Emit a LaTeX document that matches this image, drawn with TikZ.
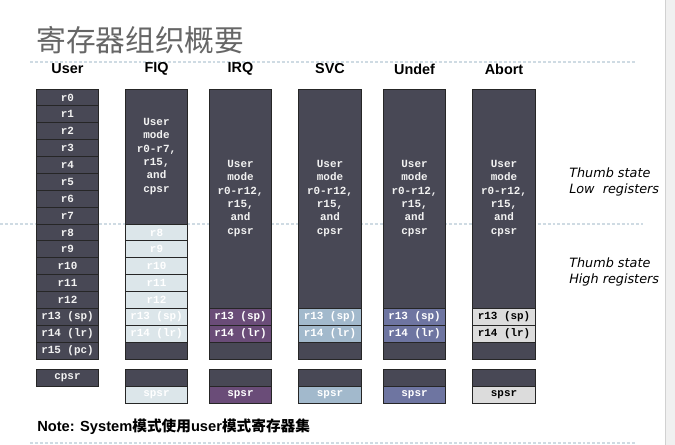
\documentclass[tikz,border=0pt]{standalone}
\usepackage{fontspec}
\newfontfamily\regfont{Liberation Mono}
\newfontfamily\headfont{Liberation Sans}
\newfontfamily\cjkfont{Noto Sans CJK SC}
\newfontfamily\handfont{DejaVu Sans}
\definecolor{regdark}{HTML}{484855}
\definecolor{fiqcol}{HTML}{DCE6EA}
\definecolor{irqcol}{HTML}{6A4C78}
\definecolor{svccol}{HTML}{A2B9CC}
\definecolor{undcol}{HTML}{6E75A1}
\definecolor{abtcol}{HTML}{DCDCDC}
\definecolor{sepcol}{HTML}{CFDBE3}
\definecolor{titlegray}{HTML}{666666}
\begin{document}
\begin{tikzpicture}[x=0.75pt, y=-0.75pt,
    reg/.style={draw=black!85, line width=0.6pt, fill=regdark, text=white!95!black,
        minimum width=46.8pt, minimum height=12.66pt, inner sep=0pt,
        font=\regfont\bfseries\fontsize{8.2}{9}\selectfont},
    blk/.style={reg, align=center, font=\regfont\bfseries\fontsize{8.2}{10}\selectfont},
    mode/.style={font=\headfont\bfseries\fontsize{10.8}{13}\selectfont},
    thumb/.style={anchor=west, align=left, inner sep=0pt,
        font=\handfont\itshape\fontsize{9.6}{12}\selectfont},
    sep/.style={draw=sepcol, line width=1.5pt, dash pattern=on 2.2pt off 1.5pt}]
    \useasboundingbox (0,0) rectangle (675,445);

    % 1. Nen: mep phai va cac duong cham
    \fill[black!6] (665,0) rectangle (675,445);
    \draw[black!18] (665,0) -- (665,445);
    \draw[sep] (30,62) -- (635,62);
    \draw[sep] (0,224.5) -- (643,224.5);
    \draw[sep] (30,443) -- (635,443);

    % 2. Tieu de
    \node[anchor=west, inner sep=0pt, text=titlegray,
        font=\cjkfont\fontsize{22.3}{26}\selectfont] (title) at (36,40) {寄存器组织概要};

    % 3. Ten cac che do
    \node[mode] (huser) at (67.5,69) {User};
    \node[mode] (hfiq) at (156.5,69) {FIQ};
    \node[mode] (hirq) at (240.5,69) {IRQ};
    \node[mode] (hsvc) at (330,69) {SVC};
    \node[mode] (hund) at (414.5,69) {Undef};
    \node[mode] (habt) at (504,69) {Abort};

    % 4. Cot User: r0 - r15 va cpsr
    \foreach \i/\t in {0/r0,1/r1,2/r2,3/r3,4/r4,5/r5,6/r6,7/r7,8/r8,9/r9,10/r10,
            11/r11,12/r12,13/{r13 (sp)},14/{r14 (lr)},15/{r15 (pc)}}
        \node[reg] (u\i) at (67.5,{89+16.875*(\i+0.5)}) {\t};
    \node[reg] (ucpsr) at (67.5,377.7) {cpsr};

    % 5. Cot FIQ: r8 - r14 rieng
    \node[blk, minimum height=101.25pt] (fiqblk) at (156.5,156.5)
        {User\\mode\\r0-r7,\\r15,\\and\\cpsr};
    \foreach \i/\t in {8/r8,9/r9,10/r10,11/r11,12/r12,13/{r13 (sp)},14/{r14 (lr)}}
        \node[reg, fill=fiqcol, text=white] (f\i) at (156.5,{89+16.875*(\i+0.5)}) {\t};
    \node[reg] (f15) at (156.5,{89+16.875*15.5}) {};
    \node[reg] (fcpsr) at (156.5,377.7) {};
    \node[reg, fill=fiqcol, text=white] (fspsr) at (156.5,394.6) {spsr};

    % 6. Cac cot IRQ, SVC, Undef, Abort: r13, r14 rieng
    \foreach \m/\cx/\col/\tc in {irq/240.5/irqcol/white, svc/330/svccol/white,
            und/414.5/undcol/white, abt/504/abtcol/black} {
        \node[blk, minimum height=164.25pt] (\m blk) at (\cx,198.5)
            {User\\mode\\r0-r12,\\r15,\\and\\cpsr};
        \node[reg, fill=\col, text=\tc] (\m13) at (\cx,{89+16.875*13.5}) {r13 (sp)};
        \node[reg, fill=\col, text=\tc] (\m14) at (\cx,{89+16.875*14.5}) {r14 (lr)};
        \node[reg] (\m15) at (\cx,{89+16.875*15.5}) {};
        \node[reg] (\m cpsr) at (\cx,377.7) {};
        \node[reg, fill=\col, text=\tc] (\m spsr) at (\cx,394.6) {spsr};
    }

    % 7. Ghi chu Thumb
    \node[thumb] (tlow) at (569,182) {Thumb state\\Low\ \ registers};
    \node[thumb] (thigh) at (569,272) {Thumb state\\High registers};

    % 8. Ghi chu cuoi
    \node[anchor=west, inner sep=0pt, font=\headfont\bfseries\fontsize{11}{13}\selectfont]
        (note) at (37,427) {Note: System{\cjkfont\bfseries 模式使用}user{\cjkfont\bfseries 模式寄存器集}};
\end{tikzpicture}
\end{document}
